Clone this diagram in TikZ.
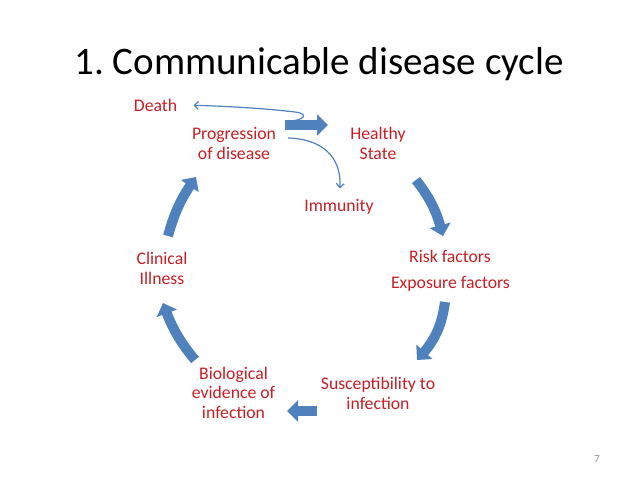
\documentclass[tikz,border=0pt]{standalone}
\usepackage{fontspec}
\setmainfont{Carlito}
\usepackage{tikz}
\usetikzlibrary{arrows.meta}
\usetikzlibrary{bending}
\definecolor{cyclered}{RGB}{200,30,36}
\definecolor{cycleblue}{RGB}{79,129,189}

\begin{document}
\begin{tikzpicture}[x=1pt,y=-1pt,
		lbl/.style={text=cyclered,align=center,anchor=base,font=\fontsize{17.7}{19.2}\selectfont},
		bigarrow/.style={draw=cycleblue,line width=10pt,-{Triangle[length=11pt,width=21pt,flex]}},
		thinarrow/.style={draw=cycleblue,line width=1.2pt,-{Straight Barb[length=4pt,width=8pt]}}]
	\fill[white] (0,0) rectangle (638,479);
	\useasboundingbox (0,0) rectangle (638,479);
	\node[anchor=base,font=\fontsize{39}{44}\selectfont] (title) at (319,74) {1.\ Communicable disease cycle};
	\node[anchor=base,text=black!45,font=\fontsize{10.6}{12}\selectfont] (page) at (597,462) {7};
	\node[lbl] (death) at (155.5,111) {Death};
	\node[lbl] (prog) at (234,159) {Progression\\of disease};
	\node[lbl] (healthy) at (378,159) {Healthy\\State};
	\node[lbl] (imm) at (339,211) {Immunity};
	\node[lbl] (risk) at (450,262) {Risk factors};
	\node[lbl] (expo) at (450.5,288) {Exposure factors};
	\node[lbl] (clin) at (162,284) {Clinical\\Illness};
	\node[lbl] (bio) at (233.5,418) {Biological\\evidence of\\infection};
	\node[lbl] (susc) at (378,409) {Susceptibility to\\infection};
	\coordinate (a1) at (416,180); \coordinate (a2) at (443,236);
	\coordinate (b1) at (445,302); \coordinate (b2) at (417,360);
	\coordinate (c1) at (195,360); \coordinate (c2) at (163,303);
	\coordinate (d1) at (168,236); \coordinate (d2) at (196,177);
	\coordinate (e1) at (285,125); \coordinate (e2) at (328,125);
	\coordinate (f1) at (317,411); \coordinate (f2) at (287,411);
	\draw[bigarrow] (a1) to[bend left=12] (a2);
	\draw[bigarrow] (b1) to[bend left=18] (b2);
	\draw[bigarrow] (c1) to[bend left=10] (c2);
	\draw[bigarrow] (d1) to[bend left=10] (d2);
	\draw[bigarrow] (e1) -- (e2);
	\draw[bigarrow] (f1) -- (f2);
	\coordinate (pd) at (289,121);
	\coordinate (pi) at (288,138);
	\draw[thinarrow,shorten >=13pt] (pd) .. controls (302,121) and (311,114) .. (295,112) .. controls (260,108) and (225,106) .. (death.east);
	\draw[thinarrow,shorten >=7pt] (pi) .. controls (325,139) and (345,160) .. (imm.north);
\end{tikzpicture}
\end{document}
